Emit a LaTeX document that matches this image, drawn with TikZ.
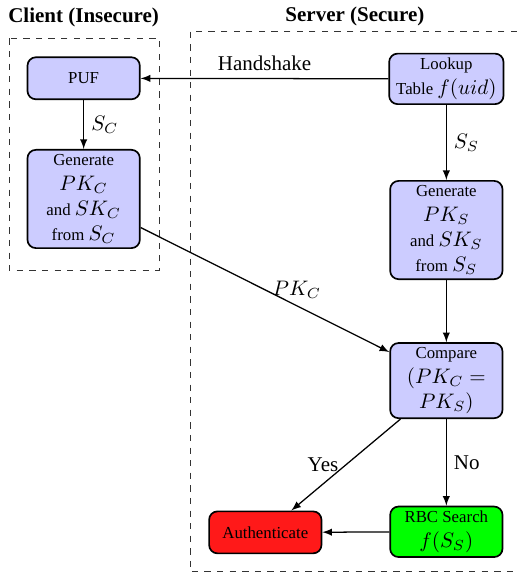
\documentclass[tikz,border=0pt]{standalone}
\usepackage{fontspec}
\setmainfont[Ligatures=TeX]{Liberation Serif}
\newfontfamily\boxfont[Scale=0.8]{Liberation Serif}
\usetikzlibrary{arrows}

\begin{document}
\begin{tikzpicture}

\tikzset{block/.style = {shape=rectangle,rounded corners,draw,thick,fill=blue!20,minimum width=53.5pt,minimum height=20pt,inner ysep=2pt,align=center,font=\boxfont}}
\tikzset{edge/.style = {->,> = latex,semithick}}
\tikzset{zone/.style = {draw,dashed,black!80}}

\useasboundingbox (0,0) rectangle (8.652,-9.64);

% the two sides
\coordinate (c1) at (0.151,-0.641);
\coordinate (c2) at (2.666,-4.519);
\coordinate (s1) at (3.180,-0.531);
\coordinate (s2) at (8.9,-9.568);
\draw[zone] (c1) rectangle (c2);
\draw[zone] (s1) rectangle (s2);
\node[font=\rmfamily\bfseries] (client) at (1.4,-0.30) {Client (Insecure)};
\node[font=\rmfamily\bfseries] (server) at (5.94,-0.27) {Server (Secure)};

\node[block] (puf) at (1.4,-1.31) {PUF};
\node[block] (genc) at (1.4,-3.33) {Generate\\ $PK_C$\\ and $SK_C$\\ from $S_C$};
\node[block] (lookup) at (7.47,-1.32) {Lookup\\ Table $f(uid)$};
\node[block] (gens) at (7.47,-3.85) {Generate\\ $PK_S$\\ and $SK_S$\\ from $S_S$};
\node[block] (compare) at (7.47,-6.37) {Compare\\ $(PK_C =$\\ $PK_S)$};
\node[block,fill=green] (rbc) at (7.47,-8.9) {RBC Search\\ $f(S_S)$};
\node[block,fill=red!90] (auth) at (4.44,-8.91) {Authenticate};

\foreach \from/\to/\side/\txt in {lookup/puf/above/Handshake, puf/genc/right/$S_C$, lookup/gens/right/$S_S$, genc/compare/right/$PK_C$, gens/compare/right/{}, compare/auth/left/Yes, compare/rbc/right/No, rbc/auth/above/{}}
\draw [edge] (\from) to node[midway,\side] {\txt} (\to);

\end{tikzpicture}
\end{document}
